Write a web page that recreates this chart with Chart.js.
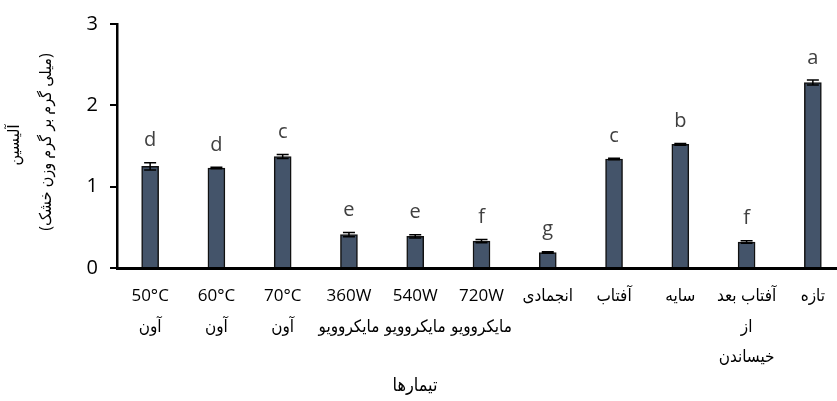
<!DOCTYPE html>
<html><head><meta charset="utf-8">
<script src="https://cdn.jsdelivr.net/npm/chart.js@4.4.1/dist/chart.umd.min.js"></script>
<style>html,body{margin:0;padding:0;overflow:hidden;background:#fff}#wrap{width:850px;height:401px}</style>
</head><body><div id="wrap"><canvas id="c" width="850" height="401"></canvas></div>
<script>
const categories = [["50°C","آون"],["60°C","آون"],["70°C","آون"],["360W","مایکروویو"],["540W","مایکروویو"],["720W","مایکروویو"],"انجمادی","آفتاب","سایه",["آفتاب بعد","از","خیساندن"],"تازه"];
const values = [1.25,1.23,1.37,0.41,0.39,0.33,0.19,1.34,1.52,0.32,2.28];
const errors = [0.045,0.01,0.025,0.025,0.02,0.02,0.01,0.01,0.01,0.015,0.03];
const letters = ["d","d","c","e","e","f","g","c","b","f","a"];
const yTicks = [0,1,2,3];
const yTitle = ["آلیسین","(میلی گرم بر گرم وزن خشک)"];
const xTitle = "تیمارها";

const FONT = "'Open Sans','DejaVu Sans Condensed','DejaVu Sans',sans-serif";

const extras = {
  id:'extras',
  afterDatasetsDraw(chart){
    const ctx = chart.ctx, ys = chart.scales.y;
    const meta = chart.getDatasetMeta(0);
    ctx.save();
    meta.data.forEach((bar,i)=>{
      const x = bar.x;
      const yt = ys.getPixelForValue(values[i]+errors[i]);
      const yb = ys.getPixelForValue(values[i]-errors[i]);
      ctx.strokeStyle='#000'; ctx.lineWidth=1.5;
      ctx.beginPath();
      ctx.moveTo(x,yt); ctx.lineTo(x,yb);
      ctx.moveTo(x-6,yt); ctx.lineTo(x+6,yt);
      ctx.moveTo(x-6,yb); ctx.lineTo(x+6,yb);
      ctx.stroke();
      ctx.fillStyle='#404040';
      ctx.font='20px '+FONT;
      ctx.textAlign='center'; ctx.textBaseline='middle';
      ctx.fillText(letters[i], x, yt-22);
    });
    // axis titles
    ctx.fillStyle='#000';
    ctx.direction='rtl';
    ctx.textAlign='center'; ctx.textBaseline='middle';
    ctx.font='18px '+FONT;
    ctx.fillText(xTitle, 415, 386);
    ctx.font='16px '+FONT;
    ctx.save(); ctx.translate(14,145); ctx.rotate(-Math.PI/2); ctx.fillText(yTitle[0],0,0); ctx.restore();
    ctx.save(); ctx.translate(46,142); ctx.rotate(-Math.PI/2); ctx.fillText(yTitle[1],0,0); ctx.restore();
    ctx.restore();
  }
};

new Chart(document.getElementById('c'), {
  type:'bar',
  data:{labels:categories, datasets:[{data:values, backgroundColor:'#44546A', borderColor:'#111', borderWidth:1.5, barThickness:17}]},
  options:{
    responsive:false, animation:false, devicePixelRatio:1,
    layout:{padding:{top:22,right:4,left:0,bottom:0}},
    plugins:{legend:{display:false}, tooltip:{enabled:false}},
    scales:{
      x:{
        grid:{display:false, drawTicks:false},
        border:{display:true,color:'#000',width:3},
        ticks:{autoSkip:false,maxRotation:0,minRotation:0,padding:13,color:'#000',font:{size:17,family:FONT,lineHeight:1.8}},
        afterFit(s){ s.height=133; }
      },
      y:{
        min:0,max:3,
        afterBuildTicks(s){ s.ticks = yTicks.map(v=>({value:v})); },
        grid:{display:true,drawOnChartArea:false,drawTicks:true,tickLength:7,color:'#000',lineWidth:2},
        border:{display:true,color:'#000',width:2.5},
        ticks:{padding:12,color:'#000',font:{size:20,family:FONT}},
        afterFit(s){ s.width=117; }
      }
    }
  },
  plugins:[extras]
});
</script>
</body></html>
